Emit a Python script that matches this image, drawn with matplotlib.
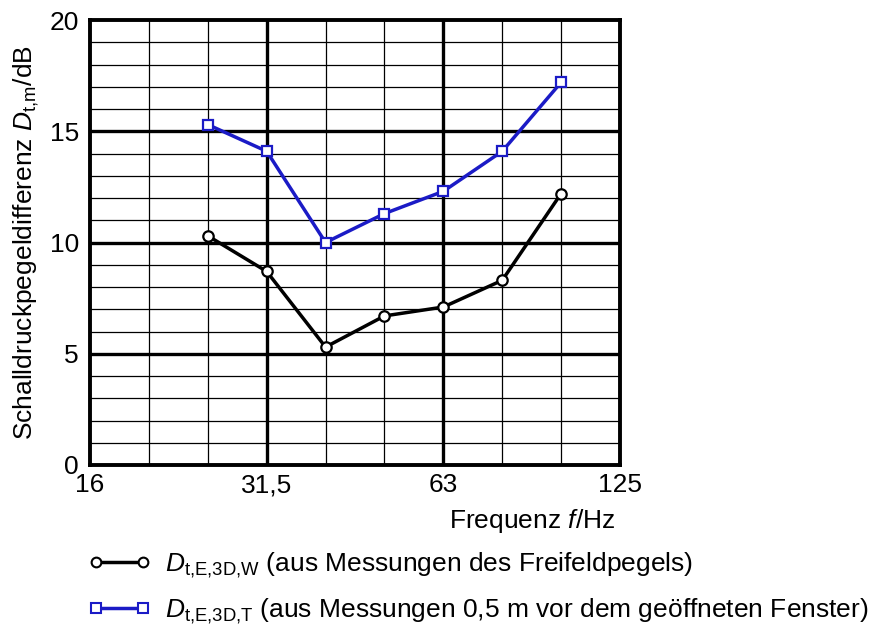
import matplotlib.pyplot as plt
from matplotlib.lines import Line2D

plt.rcParams['font.family'] = ['Liberation Sans', 'DejaVu Sans']
plt.rcParams['mathtext.fontset'] = 'custom'
plt.rcParams['mathtext.rm'] = 'Liberation Sans'
plt.rcParams['mathtext.it'] = 'Liberation Sans:italic'

# third-octave bands 16 Hz .. 125 Hz
bands = ['16', '20', '25', '31,5', '40', '50', '63', '80', '100', '125']
shown_labels = ['16', '31,5', '63', '125']
measured_bands = ['25', '31,5', '40', '50', '63', '80', '100']

d_free_field = [10.3, 8.7, 5.3, 6.7, 7.1, 8.3, 12.2]
d_window = [15.3, 14.1, 10.0, 11.3, 12.3, 14.1, 17.2]

blue = '#1b1bc6'
fs = 19

fig = plt.figure(figsize=(8.73, 6.26), dpi=100)
ax = fig.add_axes([90 / 873, 1 - 465 / 626, 530 / 873, 445 / 626])

pos = {b: i for i, b in enumerate(bands)}
xs = [pos[b] for b in measured_bands]

# grid: thin every band / every dB, heavy at octaves 31,5 and 63 and every 5 dB
for i, b in enumerate(bands[1:-1], start=1):
    heavy = b in ('31,5', '63')
    ax.axvline(i, color='black', lw=2.4 if heavy else 0.9, zorder=1 if heavy else 0.5)
for v in range(1, 20):
    heavy = v % 5 == 0
    ax.axhline(v, color='black', lw=2.4 if heavy else 0.9, zorder=1 if heavy else 0.5)

ax.plot(xs, d_free_field, color='black', lw=2.5, marker='o', ms=7.5,
        mfc='white', mec='black', mew=1.6, zorder=3)
ax.plot(xs, d_window, color=blue, lw=2.5, marker='s', ms=7.5,
        mfc='white', mec=blue, mew=1.6, zorder=3)

ax.set_xlim(0, len(bands) - 1)
ax.set_ylim(0, 20)
ax.set_xticks([pos[b] for b in shown_labels])
ax.set_xticklabels(shown_labels)
ax.set_yticks([0, 5, 10, 15, 20])
ax.tick_params(length=0, labelsize=fs)
ax.tick_params(axis='x', pad=6)
ax.tick_params(axis='y', pad=8)
for s in ax.spines.values():
    s.set_linewidth(2.8)

ax.set_ylabel(r'Schalldruckpegeldifferenz $D_{\mathrm{t{,}m}}$/dB', fontsize=fs, labelpad=6)
fig.text(615 / 873, 1 - 521 / 626, r'Frequenz $f$/Hz', fontsize=fs,
         ha='right', va='center')

handles = [
    Line2D([], [], color='black', lw=2.5, marker='o', ms=7, mfc='white',
           mec='black', mew=1.5),
    Line2D([], [], color=blue, lw=2.5, marker='s', ms=7, mfc='white',
           mec=blue, mew=1.5),
]
labels = [
    r'$D_{\mathrm{t{,}E{,}3D{,}W}}$ (aus Messungen des Freifeldpegels)',
    r'$D_{\mathrm{t{,}E{,}3D{,}T}}$ (aus Messungen 0,5 m vor dem geöffneten Fenster)',
]
fig.legend(handles, labels, loc='upper left', bbox_to_anchor=(88 / 873, 1 - 551 / 626),
           frameon=False, fontsize=fs, numpoints=2, handlelength=2.4,
           handletextpad=0.5, labelspacing=0.62, borderpad=0, borderaxespad=0)

fig.savefig('out.png', dpi=100)
